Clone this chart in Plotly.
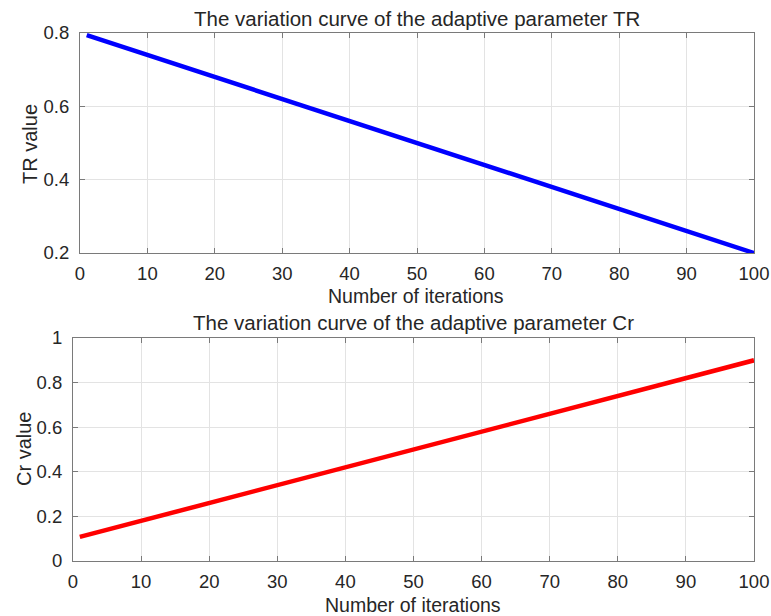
import plotly.graph_objects as go

iters = [1, 10, 20, 30, 40, 50, 60, 70, 80, 90, 100]
tr_values = [0.794, 0.74, 0.68, 0.62, 0.56, 0.50, 0.44, 0.38, 0.32, 0.26, 0.20]
cr_values = [0.108, 0.18, 0.26, 0.34, 0.42, 0.50, 0.58, 0.66, 0.74, 0.82, 0.90]
x_ticks = [0, 10, 20, 30, 40, 50, 60, 70, 80, 90, 100]
tr_ticks = [0.2, 0.4, 0.6, 0.8]
cr_ticks = [0, 0.2, 0.4, 0.6, 0.8, 1]

W, H = 771, 616
FONT = "Liberation Sans, Arial, sans-serif"
TXT = "#262626"
AX = "#7a7a7a"
GRID = "#e3e3e3"

fig = go.Figure()
fig.add_trace(go.Scatter(x=iters, y=tr_values, mode="lines",
                         line=dict(color="#0000ff", width=4.5), xaxis="x", yaxis="y",
                         showlegend=False))
fig.add_trace(go.Scatter(x=iters, y=cr_values, mode="lines",
                         line=dict(color="#ff0000", width=4.5), xaxis="x2", yaxis="y2",
                         showlegend=False))

def px(v):
    return v / W

def py(v):
    return 1 - v / H

common = dict(showline=True, linecolor=AX, linewidth=1.2, mirror="ticks",
              ticks="inside", ticklen=5, tickcolor=AX, tickwidth=1,
              showgrid=True, gridcolor=GRID, gridwidth=1, zeroline=False,
              tickfont=dict(family=FONT, size=18.5, color=TXT), automargin=False)
xcommon = dict(ticklabelstandoff=4, **common)
ycommon = dict(ticklabelstandoff=6, **common)

fig.update_layout(
    width=W, height=H, margin=dict(l=0, r=0, t=0, b=0),
    paper_bgcolor="white", plot_bgcolor="white",
    xaxis=dict(domain=[px(80), px(754)], range=[0, 100], tickvals=x_ticks,
               anchor="y", **xcommon),
    yaxis=dict(domain=[py(253), py(33)], range=[0.2, 0.8], tickvals=tr_ticks,
               anchor="x", **ycommon),
    xaxis2=dict(domain=[px(73), px(754)], range=[0, 100], tickvals=x_ticks,
                anchor="y2", **xcommon),
    yaxis2=dict(domain=[py(561), py(338)], range=[0, 1], tickvals=cr_ticks,
                anchor="x2", **ycommon),
)

def ann(text, x, y, size=20, angle=0):
    fig.add_annotation(text=text, x=px(x), y=py(y), xref="paper", yref="paper",
                       showarrow=False, textangle=angle, xanchor="center", yanchor="middle",
                       font=dict(family=FONT, size=size, color=TXT))

ann("The variation curve of the adaptive parameter TR", 417, 18, size=20.5)
ann("Number of iterations", 416, 296, size=19.5)
ann("TR value", 30, 144, angle=-90)
ann("The variation curve of the adaptive parameter Cr", 413, 322, size=20.5)
ann("Number of iterations", 413, 605, size=19.5)
ann("Cr value", 24, 449, angle=-90)

fig.write_html("out.html")
